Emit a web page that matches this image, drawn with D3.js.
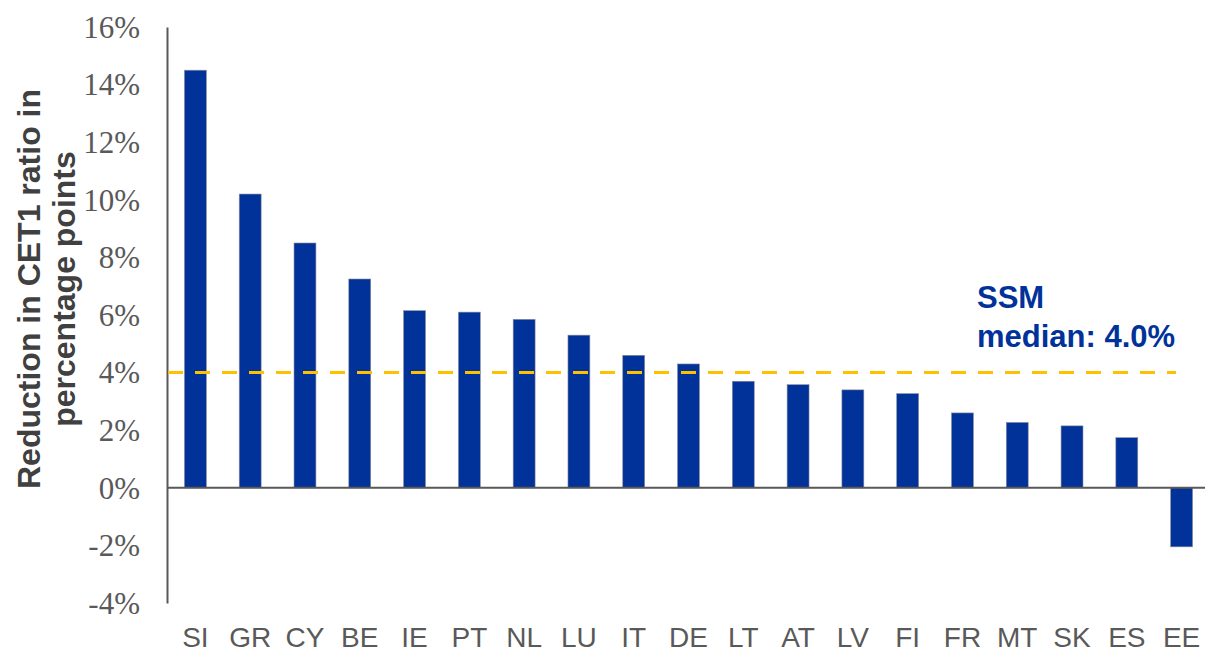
<!DOCTYPE html>
<html><head><meta charset="utf-8">
<script src="https://cdn.jsdelivr.net/npm/d3@7"></script>
<style>body{margin:0;background:#fff}svg{display:block}</style>
</head><body>
<svg id="c" width="1205" height="652"></svg>
<script>
const categories = ["SI","GR","CY","BE","IE","PT","NL","LU","IT","DE","LT","AT","LV","FI","FR","MT","SK","ES","EE"];
const values = [14.5,10.2,8.5,7.25,6.15,6.1,5.85,5.3,4.6,4.3,3.7,3.58,3.4,3.27,2.6,2.27,2.15,1.74,-2.05];
const tickValues = [-4,-2,0,2,4,6,8,10,12,14,16];
const median = 4.0;
const titleLines = ["Reduction in CET1 ratio in","percentage points"];
const annotationLines = ["SSM","median: 4.0%"];

const svg = d3.select("#c");
const x = d3.scaleBand().domain(categories).range([168,1209]).paddingInner(0.6).paddingOuter(0.3);
const y = d3.scaleLinear().domain([-4,16]).range([603,27]);
const axisColor = "#595959";

// bars
svg.append("g").selectAll("rect").data(categories).join("rect")
  .attr("x", d => x(d))
  .attr("width", x.bandwidth())
  .attr("y", (d,i) => y(Math.max(0, values[i])))
  .attr("height", (d,i) => Math.abs(y(values[i]) - y(0)))
  .attr("fill", "#003299")
  .attr("stroke", "#8c8c9c").attr("stroke-width", 0.6);

// y axis
const yAxis = d3.axisLeft(y).tickValues(tickValues).tickSize(0).tickPadding(27).tickFormat(d => d + "%");
const gy = svg.append("g").attr("transform","translate(167,0)").call(yAxis);
gy.select(".domain").attr("stroke", axisColor).attr("stroke-width", 2);
gy.selectAll("text").attr("font-family","'Liberation Serif', 'Times New Roman', serif").attr("font-size", 31).attr("fill", axisColor).attr("dy","0.33em");

// zero line axis with category labels
const xAxis = d3.axisBottom(x).tickSize(0).tickPadding(0);
const gx = svg.append("g").attr("transform", `translate(0,${y(0)})`).call(xAxis);
gx.select(".domain").attr("stroke", axisColor).attr("stroke-width", 2).attr("d", "M167,0H1205");
gx.selectAll("text").attr("font-family","'Liberation Sans', Arial, sans-serif").attr("font-size", 28).attr("fill", axisColor)
  .attr("y", y(-4) - y(0) + 44).attr("dy", 0);

// median line
svg.append("line").attr("x1", 168).attr("x2", 1176).attr("y1", y(median)).attr("y2", y(median))
  .attr("stroke", "#FFC000").attr("stroke-width", 3).attr("stroke-dasharray", "15,12");

// annotation
const ann = svg.append("text").attr("font-family","'Liberation Sans', Arial, sans-serif").attr("font-weight","bold")
  .attr("font-size", 31).attr("fill", "#003299");
annotationLines.forEach((t,i) => ann.append("tspan").attr("x", 977).attr("y", 308 + i*39).text(t));

// y title
const tt = svg.append("text").attr("transform", "translate(0,289) rotate(-90)")
  .attr("text-anchor","middle").attr("font-family","'Liberation Sans', Arial, sans-serif").attr("font-weight","bold")
  .attr("font-size", 32).attr("fill", "#404040");
titleLines.forEach((t,i) => tt.append("tspan").attr("x", 0).attr("y", 40 + i*35).text(t));
</script>
</body></html>
